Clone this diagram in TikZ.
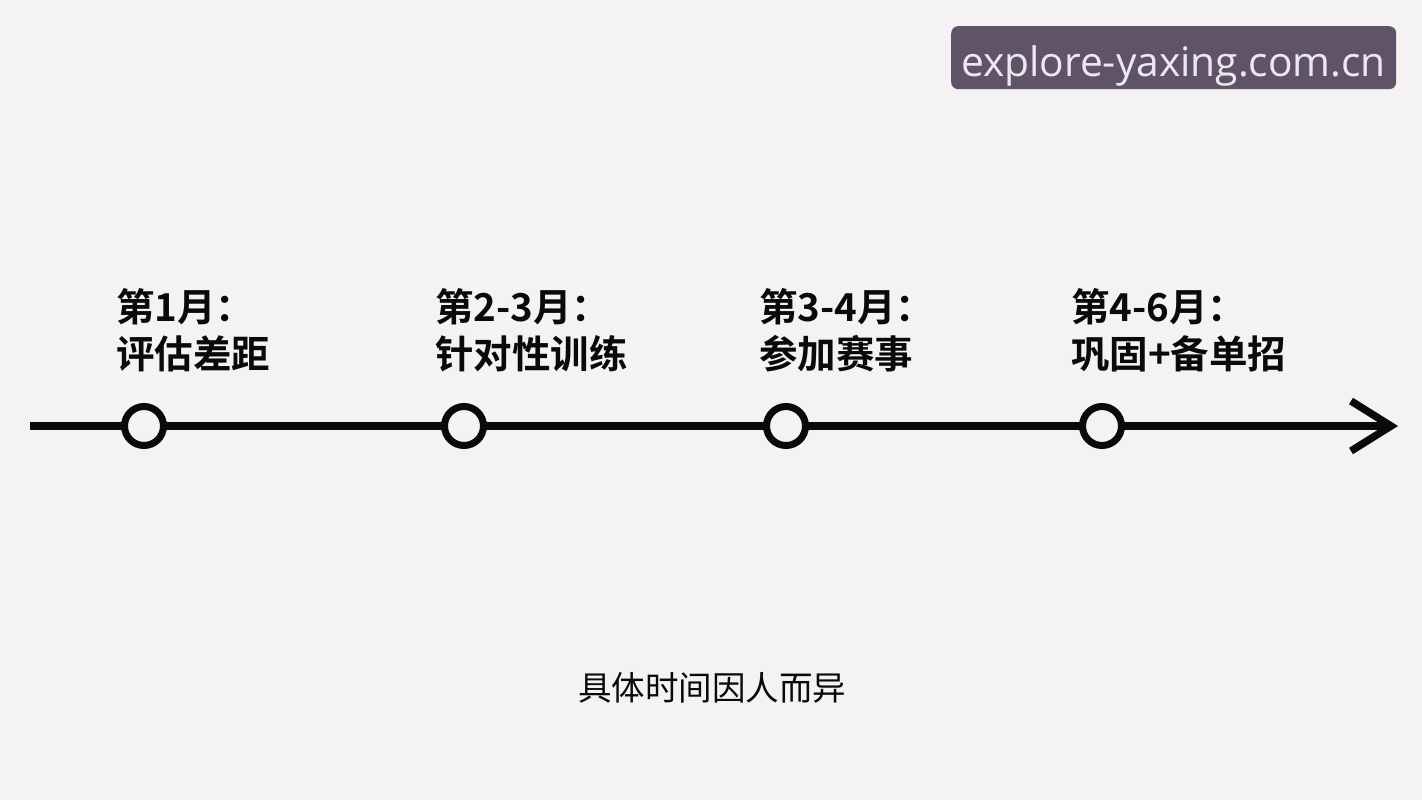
\documentclass[tikz,border=0pt]{standalone}
\usepackage{fontspec}
\newfontfamily\cjk{Noto Sans CJK SC}[BoldFont={Noto Sans CJK SC Bold}]
\newfontfamily\wmfont{Open Sans}
\definecolor{bg}{HTML}{F4F2F2}
\definecolor{wmbg}{HTML}{5E5367}
\definecolor{wmtext}{HTML}{EFE7EF}
\definecolor{ink}{HTML}{0A0A0A}
\begin{document}
\begin{tikzpicture}[x=1pt,y=-1pt,
  lbl/.style={anchor=base west,inner sep=0pt,font=\cjk\bfseries\fontsize{38.5}{40}\selectfont,text=ink},
  dot/.style={circle,draw=ink,line width=7pt,fill=bg,minimum size=39pt,inner sep=0pt},
  axis/.style={draw=ink,line width=7.5pt}]
\fill[bg] (0,0) rectangle (1422,800);
\useasboundingbox (0,0) rectangle (1422,800);
% watermark
\node[fill=wmbg,rounded corners=7pt,minimum width=445pt,minimum height=63pt,inner sep=0pt,anchor=north west] (wm) at (951,26) {};
\node[text=wmtext,font=\wmfont\fontsize{40.7}{44}\selectfont,inner sep=0pt,anchor=base] (wmt) at (1173.5,77) {explore-yaxing.com.cn};
% axis
\coordinate (start) at (30,426);
\coordinate (tip) at (1391,426);
\draw[axis] (start) -- (tip);
\draw[axis,line cap=butt,miter limit=10] (1351,401) -- (tip) -- (1351,451);
% dots
\node[dot] (d1) at (144,426) {};
\node[dot] (d2) at (464,426) {};
\node[dot] (d3) at (786,426) {};
\node[dot] (d4) at (1102,426) {};
% labels
\node[lbl] (a1) at (116,321) {第1月：};
\node[lbl] (b1) at (116,368) {评估差距};
\node[lbl] (a2) at (435,321) {第2-3月：};
\node[lbl] (b2) at (435,368) {针对性训练};
\node[lbl] (a3) at (759,321) {第3-4月：};
\node[lbl] (b3) at (759,368) {参加赛事};
\node[lbl] (a4) at (1071,321) {第4-6月：};
\node[lbl] (b4) at (1071,368) {巩固+备单招};
% note
\node[anchor=base,inner sep=0pt,font=\cjk\fontsize{33.5}{35}\selectfont,text=ink] (note) at (712,700) {具体时间因人而异};
\end{tikzpicture}
\end{document}
